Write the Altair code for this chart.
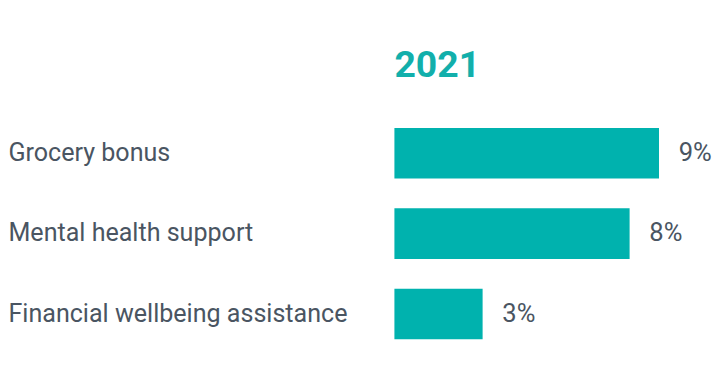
import altair as alt
import pandas as pd

categories = ["Grocery bonus", "Mental health support", "Financial wellbeing assistance"]
values = [9, 8, 3]
labels = ["9%", "8%", "3%"]

df = pd.DataFrame({"cat": categories, "val": values, "lab": labels})

TEAL = "#00B2AE"
GRAY = "#4A5562"

y = alt.Y("cat:N", sort=categories, title=None,
          scale=alt.Scale(paddingInner=0.37, paddingOuter=0.185),
          axis=alt.Axis(labelAlign="left", labelPadding=393, ticks=False, tickSize=0,
                        domain=False, labelFont="Roboto", labelFontSize=25.5,
                        labelColor=GRAY, labelLimit=400))
x = alt.X("val:Q", scale=alt.Scale(domain=[0, 10]), axis=None)

bars = alt.Chart(df).mark_bar(color=TEAL).encode(x=x, y=y)
text = alt.Chart(df).mark_text(align="left", baseline="middle", dx=20, font="Roboto",
                               fontSize=26, color=GRAY).encode(x=x, y=y, text="lab:N")

chart = (bars + text).properties(
    width=299, height=245,
    title=alt.TitleParams("2021", anchor="start", frame="group", font="Roboto",
                          fontSize=38, fontWeight="bold", color="#12AFAB", offset=29),
    padding={"left": 0, "top": 37, "right": 0, "bottom": 0},
).configure_view(stroke=None)

chart.save("out.html", embed_options={"renderer": "svg", "actions": False})
